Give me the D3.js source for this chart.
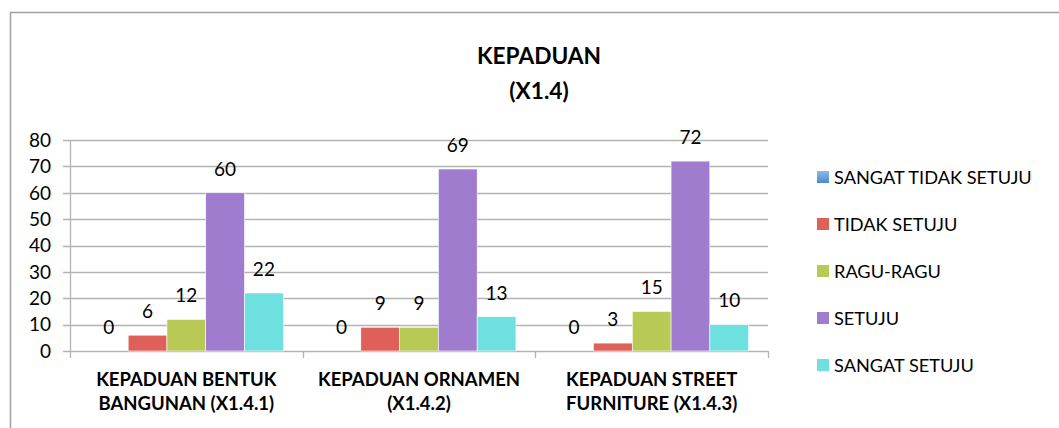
<html lang="en">
<head>
<meta charset="UTF-8">
<title>Kepaduan</title>
<script src="https://d3js.org/d3.v7.min.js"></script>
<style>
    body { margin: 0; background: #fff; }
    svg text { font-family: Lato, "Open Sans", sans-serif; fill: #000; }
</style>
</head>
<body>
<svg></svg>
<script>
// data
const categories = ["KEPADUAN BENTUK BANGUNAN (X1.4.1)", "KEPADUAN ORNAMEN (X1.4.2)", "KEPADUAN STREET FURNITURE (X1.4.3)"]
const catLines = [["KEPADUAN BENTUK", "BANGUNAN (X1.4.1)"], ["KEPADUAN ORNAMEN", "(X1.4.2)"], ["KEPADUAN STREET", "FURNITURE (X1.4.3)"]]
const series = ["SANGAT TIDAK SETUJU", "TIDAK SETUJU", "RAGU-RAGU", "SETUJU", "SANGAT SETUJU"]
const values = [
    [0, 6, 12, 60, 22],
    [0, 9, 9, 69, 13],
    [0, 3, 15, 72, 10]
]
const yTicks = [0, 10, 20, 30, 40, 50, 60, 70, 80]
const colors = ["#5B9BD5", "#DE6058", "#B8C956", "#A07CCF", "#6EE0E0"]

const width = 1059, height = 428
const svg = d3.select('svg').attr('width', width).attr('height', height)

// outer frame
svg.append('rect')
    .attr('x', 10.5).attr('y', 12.5)
    .attr('width', 1060).attr('height', 430)
    .attr('fill', 'none').attr('stroke', '#A0A0A0').attr('stroke-width', 1.5)

var x0 = d3.scaleBand().domain(categories).range([70, 768])
var x1 = d3.scaleBand().domain(series).range([0, x0.bandwidth()]).paddingOuter(0.5)
var y = d3.scaleLinear().domain([0, 80]).range([351, 140])

// gridlines
svg.append('g').selectAll('line').data(yTicks).enter().append('line')
    .attr('x1', 63).attr('x2', 768)
    .attr('y1', d => Math.round(y(d)) + 0.5).attr('y2', d => Math.round(y(d)) + 0.5)
    .attr('stroke', '#B3B3B3').attr('stroke-width', 1.3)

// y axis line
svg.append('line').attr('x1', 70.5).attr('x2', 70.5).attr('y1', 140).attr('y2', 351)
    .attr('stroke', '#B3B3B3').attr('stroke-width', 1.3)

// y tick labels
svg.append('g').selectAll('text').data(yTicks).enter().append('text')
    .attr('x', 51).attr('y', d => y(d)).attr('dy', '0.36em')
    .attr('text-anchor', 'end').attr('font-size', 19)
    .text(d => d)

// category tick marks
var catEdges = categories.map(c => x0(c)).concat([x0(categories[2]) + x0.bandwidth()])
svg.append('g').selectAll('line').data(catEdges).enter().append('line')
    .attr('x1', d => Math.round(d) + 0.5).attr('x2', d => Math.round(d) + 0.5)
    .attr('y1', 351).attr('y2', 358)
    .attr('stroke', '#B3B3B3').attr('stroke-width', 1.3)

// bars
var defs = svg.append('defs')
var grad = defs.append('linearGradient').attr('id', 'blueGrad').attr('x1', 0).attr('y1', 0).attr('x2', 0).attr('y2', 1)
grad.append('stop').attr('offset', '0%').attr('stop-color', '#8DB9E6')
grad.append('stop').attr('offset', '100%').attr('stop-color', '#4A8BD0')

var groups = svg.append('g').selectAll('g').data(categories).enter().append('g')
    .attr('transform', d => `translate(${x0(d)},0)`)

groups.selectAll('rect').data((d, i) => values[i].map((v, j) => ({s: series[j], v: v, j: j})))
    .enter().append('rect')
    .attr('x', d => x1(d.s))
    .attr('y', d => y(d.v))
    .attr('width', x1.bandwidth())
    .attr('height', d => y(0) - y(d.v))
    .attr('fill', d => colors[d.j])
    .attr('stroke', '#fff').attr('stroke-width', 0.6)

groups.selectAll('text').data((d, i) => values[i].map((v, j) => ({s: series[j], v: v})))
    .enter().append('text')
    .attr('x', d => x1(d.s) + x1.bandwidth() / 2)
    .attr('y', d => y(d.v) - 24).attr('dy', '0.36em')
    .attr('text-anchor', 'middle').attr('font-size', 19)
    .text(d => d.v)

// category labels
var catLabels = svg.append('g').selectAll('text').data(categories).enter().append('text')
    .attr('x', d => x0(d) + x0.bandwidth() / 2)
    .attr('y', 379)
    .attr('text-anchor', 'middle').attr('font-size', 18.5).attr('font-weight', 'bold')
catLabels.each(function(d, i) {
    var t = d3.select(this)
    catLines[i].forEach((line, k) => {
        t.append('tspan').attr('x', x0(d) + x0.bandwidth() / 2).attr('dy', k == 0 ? '0.36em' : 24).text(line)
    })
})

// title
svg.append('text').attr('x', 539).attr('y', 56).attr('dy', '0.36em')
    .attr('text-anchor', 'middle').attr('font-size', 22.7).attr('font-weight', 'bold').text('KEPADUAN')
svg.append('text').attr('x', 539).attr('y', 91).attr('dy', '0.36em')
    .attr('text-anchor', 'middle').attr('font-size', 22.7).attr('font-weight', 'bold').text('(X1.4)')

// legend
var legend = svg.append('g').selectAll('g').data(series).enter().append('g')
    .attr('transform', (d, i) => `translate(817,${177 + i * 47})`)
legend.append('rect').attr('x', 0).attr('y', -6).attr('width', 12).attr('height', 12)
    .attr('fill', (d, i) => i == 0 ? 'url(#blueGrad)' : colors[i])
legend.append('text').attr('x', 17).attr('y', 0).attr('dy', '0.36em')
    .attr('font-size', 18.2).text(d => d)
</script>
</body>
</html>
